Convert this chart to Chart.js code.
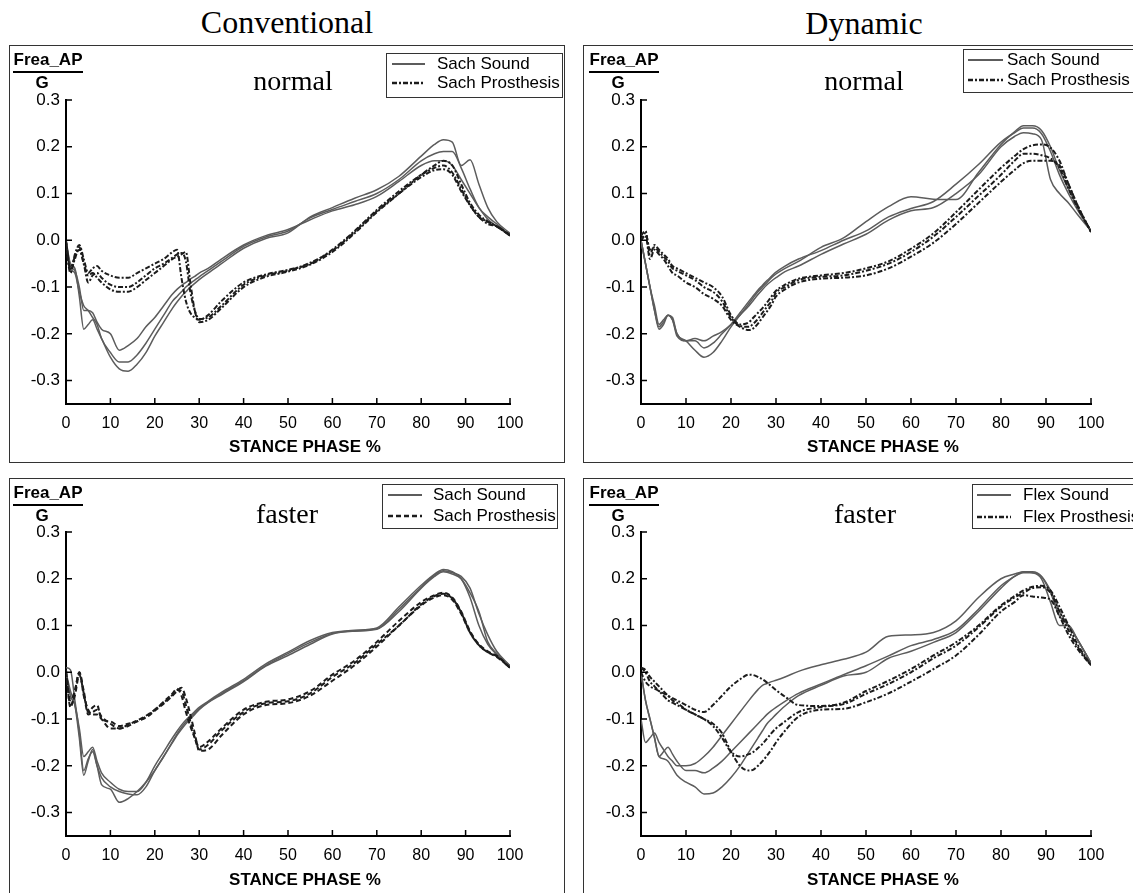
<!DOCTYPE html>
<html>
<head>
<meta charset="utf-8">
<script src="https://cdn.jsdelivr.net/npm/chart.js@4.4.1/dist/chart.umd.min.js"></script>
<style>
  html, body { margin: 0; padding: 0; background: #fff; }
  body { width: 1133px; height: 893px; position: relative; overflow: hidden; }
  .col-title {
    position: absolute;
    font-family: "Liberation Serif", "Times New Roman", serif;
    font-size: 32px;
    color: #000;
    transform: translate(-50%, -50%);
    white-space: nowrap;
  }
  canvas { position: absolute; }
</style>
</head>
<body>
<div class="col-title" style="left:287px;top:22px">Conventional</div>
<div class="col-title" style="left:864px;top:23px">Dynamic</div>
<canvas id="convNormal" style="left:9px;top:45px" width="556" height="418"></canvas>
<canvas id="dynNormal" style="left:583px;top:45px" width="560" height="418"></canvas>
<canvas id="convFaster" style="left:9px;top:478px" width="556" height="430"></canvas>
<canvas id="dynFaster" style="left:583px;top:478px" width="560" height="430"></canvas>

<script>
// stance phase (%) where each curve was read
const stance = [0, 1, 2, 3, 4, 5, 6, 7, 8, 10, 12, 14, 16, 18, 20, 22, 24, 25, 26, 27, 28, 29, 30, 32, 35, 40, 45, 50, 55, 60, 65, 70, 75, 80, 83, 85, 87, 89, 91, 93, 95, 97, 100];
const yTicks = [0.3, 0.2, 0.1, 0.0, -0.1, -0.2, -0.3];
const columnTitles = ['Conventional', 'Dynamic'];
const speedLabels = ['normal', 'faster'];
const sachLegend = ['Sach Sound', 'Sach Prosthesis'];
const flexLegend = ['Flex Sound', 'Flex Prosthesis'];

// Conventional, normal speed
const convNormalSoundA = [0, -0.05, -0.06, -0.12, -0.19, -0.18, -0.17, -0.19, -0.21, -0.25, -0.275, -0.28, -0.265, -0.24, -0.205, -0.175, -0.145, -0.132, -0.12, -0.11, -0.1, -0.092, -0.084, -0.07, -0.05, -0.017, 0.004, 0.016, 0.05, 0.07, 0.09, 0.108, 0.137, 0.18, 0.205, 0.215, 0.21, 0.16, 0.172, 0.12, 0.07, 0.04, 0.015];
const convNormalSoundB = [0, -0.06, -0.07, -0.11, -0.14, -0.15, -0.165, -0.18, -0.21, -0.24, -0.26, -0.26, -0.245, -0.22, -0.19, -0.16, -0.13, -0.12, -0.11, -0.1, -0.092, -0.085, -0.078, -0.065, -0.045, -0.013, 0.007, 0.02, 0.048, 0.066, 0.083, 0.1, 0.13, 0.17, 0.185, 0.19, 0.19, 0.155, 0.11, 0.07, 0.05, 0.035, 0.01];
const convNormalSoundC = [0, -0.055, -0.065, -0.1, -0.15, -0.15, -0.155, -0.175, -0.19, -0.2, -0.235, -0.225, -0.21, -0.185, -0.165, -0.14, -0.115, -0.105, -0.097, -0.09, -0.083, -0.077, -0.07, -0.06, -0.04, -0.01, 0.01, 0.023, 0.044, 0.063, 0.076, 0.094, 0.126, 0.16, 0.17, 0.17, 0.16, 0.13, 0.1, 0.07, 0.045, 0.03, 0.01];
const convNormalProsA = [-0.01, -0.07, -0.03, -0.01, -0.04, -0.07, -0.06, -0.055, -0.065, -0.075, -0.08, -0.08, -0.07, -0.06, -0.05, -0.04, -0.025, -0.02, -0.08, -0.13, -0.155, -0.165, -0.17, -0.16, -0.13, -0.09, -0.073, -0.063, -0.05, -0.02, 0.02, 0.065, 0.105, 0.14, 0.155, 0.16, 0.145, 0.11, 0.075, 0.05, 0.035, 0.03, 0.01];
const convNormalProsB = [0, -0.065, -0.04, -0.015, -0.05, -0.09, -0.075, -0.07, -0.08, -0.095, -0.1, -0.1, -0.09, -0.075, -0.06, -0.05, -0.037, -0.03, -0.027, -0.045, -0.11, -0.15, -0.168, -0.165, -0.14, -0.095, -0.075, -0.065, -0.048, -0.022, 0.018, 0.062, 0.1, 0.135, 0.15, 0.152, 0.14, 0.105, 0.075, 0.05, 0.04, 0.03, 0.012];
const convNormalProsC = [-0.005, -0.06, -0.035, -0.02, -0.05, -0.075, -0.07, -0.08, -0.09, -0.105, -0.11, -0.11, -0.1, -0.085, -0.07, -0.055, -0.04, -0.035, -0.03, -0.025, -0.09, -0.15, -0.175, -0.17, -0.145, -0.1, -0.078, -0.067, -0.052, -0.025, 0.015, 0.06, 0.1, 0.14, 0.16, 0.17, 0.16, 0.12, 0.08, 0.055, 0.04, 0.03, 0.01];

// Dynamic, normal speed
const dynNormalSoundA = [0, -0.05, -0.1, -0.15, -0.19, -0.18, -0.16, -0.165, -0.2, -0.215, -0.235, -0.25, -0.24, -0.215, -0.185, -0.16, -0.135, -0.122, -0.11, -0.1, -0.09, -0.08, -0.072, -0.06, -0.045, -0.015, 0.005, 0.04, 0.072, 0.093, 0.088, 0.087, 0.145, 0.205, 0.232, 0.245, 0.245, 0.235, 0.2, 0.15, 0.11, 0.07, 0.02];
const dynNormalSoundB = [0, -0.05, -0.1, -0.15, -0.185, -0.175, -0.16, -0.17, -0.205, -0.215, -0.215, -0.23, -0.22, -0.2, -0.18, -0.155, -0.13, -0.118, -0.106, -0.096, -0.086, -0.077, -0.068, -0.055, -0.04, -0.022, 0, 0.02, 0.05, 0.068, 0.083, 0.12, 0.162, 0.21, 0.23, 0.24, 0.24, 0.228, 0.19, 0.14, 0.1, 0.065, 0.02];
const dynNormalSoundC = [0, -0.05, -0.1, -0.14, -0.18, -0.17, -0.16, -0.17, -0.2, -0.215, -0.21, -0.215, -0.205, -0.195, -0.18, -0.16, -0.14, -0.128, -0.116, -0.105, -0.095, -0.087, -0.08, -0.067, -0.055, -0.03, -0.008, 0.013, 0.043, 0.063, 0.07, 0.1, 0.14, 0.2, 0.222, 0.23, 0.228, 0.215, 0.13, 0.1, 0.08, 0.055, 0.02];
const dynNormalProsA = [0.01, 0.02, -0.03, -0.01, -0.02, -0.03, -0.04, -0.055, -0.06, -0.07, -0.08, -0.09, -0.1, -0.12, -0.16, -0.18, -0.175, -0.165, -0.155, -0.145, -0.133, -0.12, -0.108, -0.095, -0.082, -0.075, -0.07, -0.06, -0.045, -0.018, 0.015, 0.06, 0.108, 0.155, 0.18, 0.195, 0.203, 0.205, 0.198, 0.17, 0.12, 0.075, 0.018];
const dynNormalProsB = [0, 0.015, -0.02, -0.015, -0.025, -0.035, -0.045, -0.06, -0.065, -0.075, -0.085, -0.1, -0.11, -0.13, -0.165, -0.183, -0.185, -0.178, -0.168, -0.155, -0.142, -0.13, -0.112, -0.1, -0.085, -0.078, -0.075, -0.065, -0.05, -0.025, 0.008, 0.05, 0.095, 0.14, 0.17, 0.185, 0.185, 0.182, 0.175, 0.155, 0.11, 0.07, 0.018];
const dynNormalProsC = [0, 0.01, -0.04, -0.02, -0.03, -0.04, -0.055, -0.07, -0.075, -0.09, -0.1, -0.115, -0.125, -0.14, -0.17, -0.185, -0.192, -0.188, -0.178, -0.165, -0.152, -0.138, -0.12, -0.105, -0.09, -0.082, -0.08, -0.075, -0.06, -0.035, -0.005, 0.035, 0.08, 0.125, 0.15, 0.165, 0.17, 0.17, 0.17, 0.16, 0.12, 0.075, 0.018];

// Conventional, faster speed
const convFasterSoundA = [0, -0.04, -0.07, -0.14, -0.22, -0.19, -0.165, -0.2, -0.24, -0.25, -0.278, -0.27, -0.255, -0.235, -0.21, -0.18, -0.15, -0.135, -0.122, -0.11, -0.1, -0.09, -0.08, -0.065, -0.048, -0.02, 0.013, 0.036, 0.06, 0.082, 0.088, 0.092, 0.13, 0.18, 0.205, 0.215, 0.21, 0.2, 0.17, 0.13, 0.065, 0.04, 0.014];
const convFasterSoundB = [0, -0.05, -0.07, -0.12, -0.18, -0.17, -0.16, -0.19, -0.215, -0.235, -0.25, -0.255, -0.255, -0.235, -0.2, -0.17, -0.14, -0.126, -0.113, -0.102, -0.093, -0.084, -0.075, -0.062, -0.043, -0.015, 0.018, 0.043, 0.068, 0.085, 0.09, 0.095, 0.14, 0.186, 0.21, 0.22, 0.215, 0.2, 0.16, 0.1, 0.06, 0.038, 0.013];
const convFasterSoundC = [0.01, 0.005, -0.06, -0.13, -0.21, -0.185, -0.17, -0.2, -0.225, -0.245, -0.255, -0.26, -0.262, -0.245, -0.21, -0.18, -0.148, -0.132, -0.118, -0.106, -0.096, -0.087, -0.078, -0.064, -0.046, -0.018, 0.015, 0.04, 0.064, 0.083, 0.089, 0.093, 0.135, 0.182, 0.208, 0.217, 0.213, 0.205, 0.18, 0.125, 0.08, 0.045, 0.014];
const convFasterProsA = [0, -0.06, -0.04, 0, -0.04, -0.085, -0.075, -0.07, -0.1, -0.105, -0.115, -0.11, -0.105, -0.095, -0.08, -0.063, -0.045, -0.035, -0.05, -0.085, -0.115, -0.14, -0.16, -0.148, -0.12, -0.08, -0.063, -0.058, -0.04, -0.005, 0.025, 0.065, 0.11, 0.15, 0.165, 0.17, 0.16, 0.13, 0.088, 0.06, 0.045, 0.035, 0.01];
const convFasterProsB = [0, -0.07, -0.05, -0.005, -0.045, -0.09, -0.085, -0.08, -0.095, -0.11, -0.12, -0.112, -0.103, -0.093, -0.08, -0.065, -0.048, -0.038, -0.04, -0.07, -0.105, -0.14, -0.165, -0.155, -0.125, -0.085, -0.066, -0.062, -0.045, -0.01, 0.02, 0.06, 0.1, 0.145, 0.163, 0.168, 0.158, 0.128, 0.085, 0.058, 0.043, 0.033, 0.01];
const convFasterProsC = [0.005, -0.075, -0.04, 0, -0.05, -0.08, -0.09, -0.09, -0.1, -0.12, -0.12, -0.115, -0.105, -0.097, -0.082, -0.067, -0.05, -0.04, -0.033, -0.055, -0.09, -0.13, -0.168, -0.165, -0.135, -0.09, -0.07, -0.066, -0.05, -0.018, 0.015, 0.055, 0.1, 0.143, 0.16, 0.165, 0.155, 0.125, 0.085, 0.058, 0.043, 0.035, 0.01];

// Dynamic, faster speed
const dynFasterSoundA = [-0.1, -0.15, -0.14, -0.13, -0.15, -0.165, -0.18, -0.19, -0.2, -0.2, -0.195, -0.18, -0.16, -0.135, -0.11, -0.085, -0.06, -0.048, -0.037, -0.028, -0.024, -0.02, -0.017, -0.01, 0.002, 0.016, 0.028, 0.043, 0.077, 0.08, 0.085, 0.11, 0.16, 0.2, 0.21, 0.215, 0.213, 0.2, 0.15, 0.1, 0.1, 0.07, 0.02];
const dynFasterSoundB = [0, -0.06, -0.1, -0.14, -0.18, -0.17, -0.16, -0.175, -0.19, -0.21, -0.21, -0.215, -0.205, -0.19, -0.17, -0.15, -0.13, -0.12, -0.11, -0.1, -0.09, -0.082, -0.075, -0.062, -0.045, -0.025, -0.005, 0.014, 0.035, 0.057, 0.07, 0.09, 0.135, 0.185, 0.205, 0.215, 0.215, 0.205, 0.17, 0.12, 0.1, 0.07, 0.02];
const dynFasterSoundC = [0, -0.06, -0.1, -0.14, -0.18, -0.185, -0.19, -0.205, -0.22, -0.235, -0.245, -0.26, -0.258, -0.245, -0.225, -0.2, -0.17, -0.155, -0.14, -0.125, -0.11, -0.1, -0.09, -0.072, -0.05, -0.028, -0.008, 0, 0.03, 0.045, 0.064, 0.085, 0.13, 0.18, 0.205, 0.213, 0.213, 0.205, 0.175, 0.13, 0.1, 0.07, 0.02];
const dynFasterProsA = [0.01, 0.005, -0.01, -0.02, -0.03, -0.04, -0.05, -0.055, -0.06, -0.07, -0.08, -0.085, -0.07, -0.05, -0.03, -0.015, -0.005, -0.006, -0.01, -0.015, -0.022, -0.03, -0.038, -0.052, -0.07, -0.072, -0.065, -0.04, -0.018, 0.007, 0.036, 0.064, 0.1, 0.143, 0.163, 0.175, 0.183, 0.185, 0.175, 0.14, 0.1, 0.06, 0.015];
const dynFasterProsB = [0.01, 0, -0.02, -0.03, -0.04, -0.045, -0.05, -0.06, -0.065, -0.08, -0.09, -0.1, -0.115, -0.14, -0.17, -0.18, -0.175, -0.17, -0.162, -0.153, -0.142, -0.13, -0.12, -0.105, -0.085, -0.074, -0.068, -0.046, -0.025, 0, 0.03, 0.057, 0.096, 0.14, 0.16, 0.17, 0.18, 0.182, 0.17, 0.13, 0.09, 0.055, 0.015];
const dynFasterProsC = [0, -0.02, -0.03, -0.035, -0.04, -0.05, -0.06, -0.065, -0.07, -0.08, -0.09, -0.1, -0.11, -0.13, -0.17, -0.2, -0.21, -0.208, -0.2, -0.19, -0.178, -0.165, -0.15, -0.125, -0.095, -0.08, -0.078, -0.064, -0.045, -0.02, 0.007, 0.036, 0.08, 0.13, 0.15, 0.165, 0.162, 0.16, 0.155, 0.12, 0.08, 0.05, 0.015];

const SANS = '"Liberation Sans", Arial, Helvetica, sans-serif';
const SERIF = '"Liberation Serif", "Times New Roman", serif';
const soundColor = '#5c5c5c';
const prosColor = '#1c1c1c';

Chart.defaults.font.family = SANS;
Chart.defaults.color = '#000';

function toPoints(ys) {
    return stance.map((x, i) => ({ x: x, y: ys[i] }));
}

// frame, inward ticks, fraction label, speed label, legend box, x title
const panelDecor = {
    id: 'panelDecor',
    afterDraw(chart, args, o) {
        const ctx = chart.ctx;
        const { left, right, bottom } = chart.chartArea;
        const xs = chart.scales.x;
        const ys = chart.scales.y;
        ctx.save();

        ctx.strokeStyle = '#333';
        ctx.lineWidth = 1;
        ctx.strokeRect(0.5, 0.5, o.frameW, o.frameH);

        ctx.strokeStyle = '#000';
        ctx.lineWidth = 1.5;
        ctx.beginPath();
        xs.ticks.forEach(t => {
            const px = xs.getPixelForValue(t.value);
            ctx.moveTo(px, bottom);
            ctx.lineTo(px, bottom - 6);
        });
        ys.ticks.forEach(t => {
            const py = ys.getPixelForValue(t.value);
            ctx.moveTo(left, py);
            ctx.lineTo(left + 6, py);
        });
        ctx.stroke();

        // Frea_AP over G
        ctx.fillStyle = '#000';
        ctx.textBaseline = 'middle';
        ctx.textAlign = 'center';
        ctx.font = 'bold 17px ' + SANS;
        ctx.fillText('Frea_AP', o.fracX, o.fracY);
        ctx.fillText('G', o.fracX - 6, o.fracY + 23);
        ctx.lineWidth = 2;
        ctx.beginPath();
        ctx.moveTo(o.fracX - 35, o.fracY + 12);
        ctx.lineTo(o.fracX + 35, o.fracY + 12);
        ctx.stroke();

        ctx.font = '28px ' + SERIF;
        ctx.fillText(o.speed, o.speedX, o.speedY);

        ctx.font = 'bold 17px ' + SANS;
        ctx.fillText('STANCE PHASE %', (left + right) / 2 + 17, o.xTitleY);

        // legend
        const lg = o.legend;
        ctx.strokeStyle = '#333';
        ctx.lineWidth = 1;
        ctx.setLineDash([]);
        ctx.strokeRect(lg.x + 0.5, lg.y + 0.5, lg.w, lg.h);
        ctx.textAlign = 'left';
        ctx.font = '17px ' + SANS;
        lg.sets.forEach((dsIndex, row) => {
            const ds = chart.data.datasets[dsIndex];
            const ly = lg.rows[row];
            ctx.strokeStyle = ds.borderColor;
            ctx.lineWidth = ds.borderWidth + 0.5;
            ctx.setLineDash(ds.borderDash || []);
            ctx.beginPath();
            ctx.moveTo(lg.x + lg.sample[0], ly);
            ctx.lineTo(lg.x + lg.sample[1], ly);
            ctx.stroke();
            ctx.fillText(o.labels[row], lg.x + lg.textX, ly);
        });
        ctx.restore();
    }
};

function makePanel(id, sound, pros, cfg) {
    const prosDash = cfg.dash || [5, 2, 2, 2];
    const datasets = [];
    pros.forEach(ys => datasets.push({
        data: toPoints(ys), borderColor: prosColor, borderWidth: 2, borderDash: prosDash
    }));
    sound.forEach(ys => datasets.push({
        data: toPoints(ys), borderColor: soundColor, borderWidth: 1.5
    }));
    const canvas = document.getElementById(id);
    const W = canvas.width, H = canvas.height;
    const yAxisW = 50, xAxisH = 30;
    new Chart(canvas, {
        type: 'line',
        data: { datasets: datasets },
        options: {
            responsive: false,
            animation: false,
            devicePixelRatio: 1,
            events: [],
            elements: {
                point: { radius: 0 },
                line: { cubicInterpolationMode: 'monotone', fill: false }
            },
            layout: {
                autoPadding: false,
                padding: {
                    left: cfg.area.left - yAxisW,
                    top: cfg.area.top,
                    right: W - cfg.area.right,
                    bottom: H - cfg.area.bottom - xAxisH
                }
            },
            scales: {
                x: {
                    type: 'linear',
                    min: 0,
                    max: 100,
                    grid: { display: false, drawTicks: false },
                    border: { display: true, color: '#000', width: 2 },
                    ticks: { stepSize: 10, padding: 10, font: { size: 16 }, color: '#000', maxRotation: 0, autoSkip: false },
                    afterFit: s => { s.height = xAxisH; }
                },
                y: {
                    min: -0.35,
                    max: 0.3,
                    grid: { display: false, drawTicks: false },
                    border: { display: true, color: '#000', width: 2 },
                    ticks: { padding: 6, font: { size: 17 }, color: '#000', callback: v => v.toFixed(1) },
                    afterBuildTicks: s => { s.ticks = yTicks.map(v => ({ value: v })); },
                    afterFit: s => { s.width = yAxisW; }
                }
            },
            plugins: {
                legend: { display: false },
                tooltip: { enabled: false },
                panelDecor: {
                    frameW: cfg.frameW,
                    frameH: cfg.frameH,
                    fracX: cfg.fracX,
                    fracY: 15,
                    speed: cfg.speed,
                    speedX: cfg.speedX,
                    speedY: 38,
                    xTitleY: 402,
                    labels: cfg.labels,
                    legend: Object.assign({ sets: [3, 0] }, cfg.legend)
                }
            }
        },
        plugins: [panelDecor]
    });
}

makePanel('convNormal',
    [convNormalSoundA, convNormalSoundB, convNormalSoundC],
    [convNormalProsA, convNormalProsB, convNormalProsC], {
    area: { left: 57, right: 501, top: 55, bottom: 359 },
    frameW: 555, frameH: 417,
    fracX: 39, speed: speedLabels[0], speedX: 284,
    labels: sachLegend,
    legend: { x: 377, y: 8, w: 176, h: 44, rows: [19, 38], sample: [6, 39], textX: 51 }
});

makePanel('dynNormal',
    [dynNormalSoundA, dynNormalSoundB, dynNormalSoundC],
    [dynNormalProsA, dynNormalProsB, dynNormalProsC], {
    area: { left: 58, right: 508, top: 55, bottom: 359 },
    frameW: 600, frameH: 417,
    fracX: 41, speed: speedLabels[0], speedX: 281,
    labels: sachLegend,
    legend: { x: 380, y: 4, w: 300, h: 43, rows: [15, 35], sample: [5, 40], textX: 44 }
});

makePanel('convFaster',
    [convFasterSoundA, convFasterSoundB, convFasterSoundC],
    [convFasterProsA, convFasterProsB, convFasterProsC], {
    area: { left: 57, right: 501, top: 54, bottom: 358 },
    frameW: 555, frameH: 500,
    fracX: 39, speed: speedLabels[1], speedX: 278,
    labels: sachLegend, dash: [5, 3],
    legend: { x: 373, y: 6, w: 175, h: 44, rows: [17, 38], sample: [6, 40], textX: 51 }
});

makePanel('dynFaster',
    [dynFasterSoundA, dynFasterSoundB, dynFasterSoundC],
    [dynFasterProsA, dynFasterProsB, dynFasterProsC], {
    area: { left: 58, right: 508, top: 54, bottom: 358 },
    frameW: 600, frameH: 500,
    fracX: 41, speed: speedLabels[1], speedX: 282,
    labels: flexLegend,
    legend: { x: 389, y: 6, w: 300, h: 44, rows: [17, 39], sample: [5, 39], textX: 51 }
});
</script>
</body>
</html>
